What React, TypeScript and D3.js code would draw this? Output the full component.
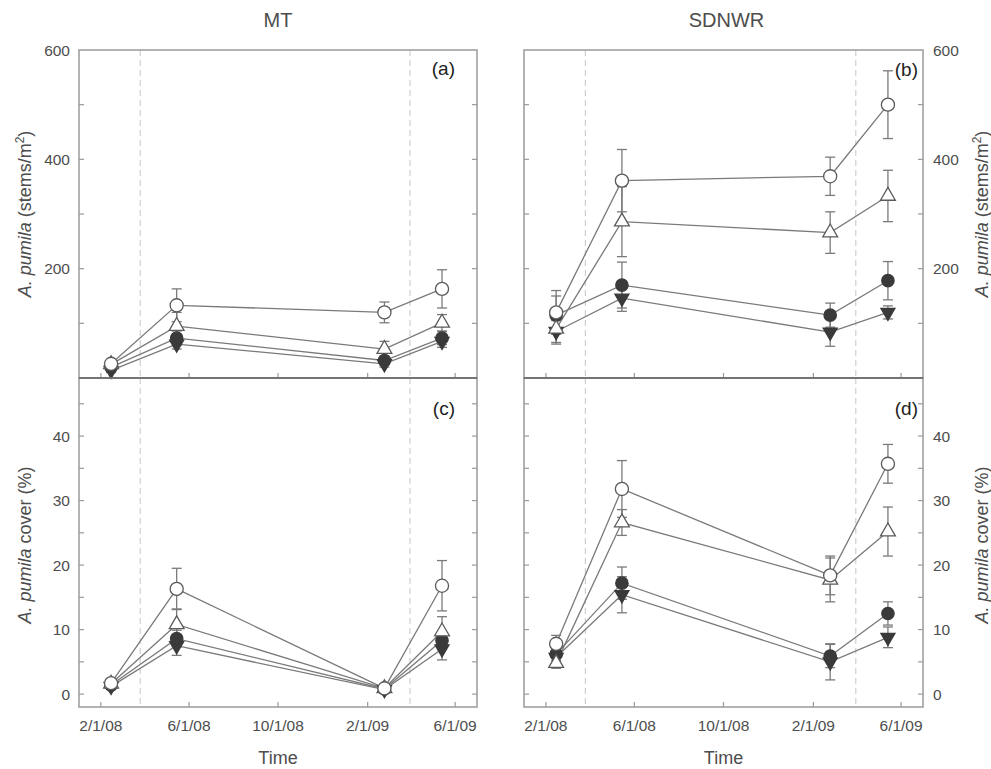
import React from "react";
import * as d3 from "d3";

// ---------- data ----------
const sampleDates = ["2008-02-15", "2008-05-15", "2009-02-24", "2009-05-14"];
const dashedDates = ["2008-03-26", "2009-03-31"];
const xDomainDates = ["2008-01-02", "2009-07-01"];
const xTickDates = ["2008-02-01", "2008-06-01", "2008-10-01", "2009-02-01", "2009-06-01"];
const xTickLabels = ["2/1/08", "6/1/08", "10/1/08", "2/1/09", "6/1/09"];

const stemTicksMajor = [200, 400, 600];
const stemTicksMinor = [100, 300, 500];
const coverTicksMajor = [0, 10, 20, 30, 40];
const coverTicksMinor = [5, 15, 25, 35, 45];

const columnTitles = ["MT", "SDNWR"];
const panelLabels = ["(a)", "(b)", "(c)", "(d)"];

// (a) MT stems
const aOpenCircle = [26, 133, 120, 163];
const aOpenCircleSE = [6, 30, 19, 35];
const aOpenTriangle = [25, 95, 53, 101];
const aOpenTriangleSE = [5, 25, 14, 15];
const aFilledCircle = [20, 73, 32, 73];
const aFilledCircleSE = [4, 13, 8, 12];
const aFilledTriangle = [14, 62, 26, 67];
const aFilledTriangleSE = [4, 9, 6, 11];

// (b) SDNWR stems
const bOpenCircle = [120, 361, 369, 500];
const bOpenCircleSE = [40, 57, 35, 62];
const bOpenTriangle = [90, 286, 266, 333];
const bOpenTriangleSE = [28, 64, 38, 47];
const bFilledCircle = [115, 170, 115, 178];
const bFilledCircleSE = [35, 42, 22, 35];
const bFilledTriangle = [85, 146, 84, 120];
const bFilledTriangleSE = [20, 24, 26, 12];

// (c) MT cover
const cOpenCircle = [1.7, 16.3, 0.9, 16.8];
const cOpenCircleSE = [0.3, 3.2, 0.2, 3.9];
const cOpenTriangle = [1.6, 10.8, 0.9, 9.7];
const cOpenTriangleSE = [0.3, 2.4, 0.2, 2.3];
const cFilledCircle = [1.4, 8.6, 0.8, 8.3];
const cFilledCircleSE = [0.2, 1.3, 0.2, 1.4];
const cFilledTriangle = [1.2, 7.5, 0.7, 7.0];
const cFilledTriangleSE = [0.2, 1.5, 0.2, 1.7];

// (d) SDNWR cover
const dOpenCircle = [7.8, 31.8, 18.4, 35.7];
const dOpenCircleSE = [1.3, 4.4, 3.0, 3.0];
const dOpenTriangle = [4.8, 26.6, 17.7, 25.2];
const dOpenTriangleSE = [0.8, 2.0, 3.4, 3.8];
const dFilledCircle = [6.2, 17.2, 5.9, 12.5];
const dFilledCircleSE = [1.0, 2.5, 1.8, 1.8];
const dFilledTriangle = [5.7, 15.4, 5.0, 8.8];
const dFilledTriangleSE = [0.9, 2.8, 2.8, 1.6];

// ---------- layout ----------
const W = 991;
const H = 769;
const colX = [
  [79, 477],
  [524, 923],
];
const rowY = [
  [50, 378],
  [378, 707],
];
const FONT = "'Liberation Sans', Arial, Helvetica, sans-serif";
const AXIS = "#9a9a9a";
const LINE = "#7a7a7a";
const DARK = "#3a3a3a";
const TEXT = "#4d4d4d";

const parse = d3.timeParse("%Y-%m-%d");

type Series = { vals: number[]; se: number[]; kind: string };

const panels: { col: number; row: number; series: Series[] }[] = [
  {
    col: 0,
    row: 0,
    series: [
      { vals: aFilledTriangle, se: aFilledTriangleSE, kind: "filledTriangle" },
      { vals: aFilledCircle, se: aFilledCircleSE, kind: "filledCircle" },
      { vals: aOpenTriangle, se: aOpenTriangleSE, kind: "openTriangle" },
      { vals: aOpenCircle, se: aOpenCircleSE, kind: "openCircle" },
    ],
  },
  {
    col: 1,
    row: 0,
    series: [
      { vals: bFilledTriangle, se: bFilledTriangleSE, kind: "filledTriangle" },
      { vals: bFilledCircle, se: bFilledCircleSE, kind: "filledCircle" },
      { vals: bOpenTriangle, se: bOpenTriangleSE, kind: "openTriangle" },
      { vals: bOpenCircle, se: bOpenCircleSE, kind: "openCircle" },
    ],
  },
  {
    col: 0,
    row: 1,
    series: [
      { vals: cFilledTriangle, se: cFilledTriangleSE, kind: "filledTriangle" },
      { vals: cFilledCircle, se: cFilledCircleSE, kind: "filledCircle" },
      { vals: cOpenTriangle, se: cOpenTriangleSE, kind: "openTriangle" },
      { vals: cOpenCircle, se: cOpenCircleSE, kind: "openCircle" },
    ],
  },
  {
    col: 1,
    row: 1,
    series: [
      { vals: dFilledTriangle, se: dFilledTriangleSE, kind: "filledTriangle" },
      { vals: dFilledCircle, se: dFilledCircleSE, kind: "filledCircle" },
      { vals: dOpenTriangle, se: dOpenTriangleSE, kind: "openTriangle" },
      { vals: dOpenCircle, se: dOpenCircleSE, kind: "openCircle" },
    ],
  },
];

const symbolPath = (kind: string) => {
  if (kind === "openCircle") return d3.symbol(d3.symbolCircle, 135)();
  if (kind === "filledCircle") return d3.symbol(d3.symbolCircle, 120)();
  return d3.symbol(d3.symbolTriangle, kind === "openTriangle" ? 95 : 85)();
};

function Panel({ col, row, series, label }: any) {
  const [x0, x1] = colX[col];
  const [y0, y1] = rowY[row];
  const x = d3
    .scaleTime()
    .domain(xDomainDates.map((d) => parse(d) as Date))
    .range([x0, x1]);
  const y =
    row === 0
      ? d3.scaleLinear().domain([0, 600]).range([y1, y0])
      : d3.scaleLinear().domain([-2, 49]).range([y1, y0]);
  const major = row === 0 ? stemTicksMajor : coverTicksMajor;
  const minor = row === 0 ? stemTicksMinor : coverTicksMinor;
  const dates = sampleDates.map((d) => parse(d) as Date);
  const line = d3
    .line<number>()
    .x((_, i) => x(dates[i]))
    .y((v) => y(v));
  const tl = 5;
  const labelPos =
    col === 0 ? { x: x1 - 22, y: row === 0 ? 75 : 415 } : { x: x1 - 5, y: row === 0 ? 76 : 415 };

  return (
    <g>
      {dashedDates.map((d) => (
        <line
          key={d}
          x1={x(parse(d) as Date)}
          x2={x(parse(d) as Date)}
          y1={y0}
          y2={y1}
          stroke="#cfcfcf"
          strokeWidth={1.2}
          strokeDasharray="6,4"
        />
      ))}
      <rect x={x0} y={y0} width={x1 - x0} height={y1 - y0} fill="none" stroke={AXIS} strokeWidth={1.5} />
      {[...major, ...minor]
        .filter((t) => y(t) > y0 + 1 && y(t) < y1 - 1)
        .map((t) => (
          <g key={"yt" + t}>
            <line x1={x0} x2={x0 + tl} y1={y(t)} y2={y(t)} stroke={AXIS} strokeWidth={1.2} />
            <line x1={x1} x2={x1 - tl} y1={y(t)} y2={y(t)} stroke={AXIS} strokeWidth={1.2} />
          </g>
        ))}
      {xTickDates.map((d) => (
        <line
          key={"xt" + d}
          x1={x(parse(d) as Date)}
          x2={x(parse(d) as Date)}
          y1={y1}
          y2={y1 - tl}
          stroke={AXIS}
          strokeWidth={1.2}
        />
      ))}
      {major.map((t) => (
        <text
          key={"yl" + t}
          x={col === 0 ? x0 - 9 : x1 + 10}
          y={y(t)}
          dy="0.36em"
          textAnchor={col === 0 ? "end" : "start"}
          fontSize={15.5}
          fill={TEXT}
          fontFamily={FONT}
        >
          {t}
        </text>
      ))}
      {row === 1 &&
        xTickDates.map((d, i) => (
          <text
            key={"xl" + d}
            x={x(parse(d) as Date)}
            y={731}
            textAnchor="middle"
            fontSize={15.5}
            fill={TEXT}
            fontFamily={FONT}
          >
            {xTickLabels[i]}
          </text>
        ))}
      {series.map((s: Series, si: number) => (
        <path key={"ln" + si} d={line(s.vals) as string} fill="none" stroke={LINE} strokeWidth={1.3} />
      ))}
      {series.map((s: Series, si: number) =>
        s.vals.map((v, i) => {
          const cx = x(dates[i]);
          const yt = y(v + s.se[i]);
          const yb = y(v - s.se[i]);
          return (
            <g key={"eb" + si + "-" + i} stroke={LINE} strokeWidth={1.3}>
              <line x1={cx} x2={cx} y1={yt} y2={yb} />
              <line x1={cx - 5} x2={cx + 5} y1={yt} y2={yt} />
              <line x1={cx - 5} x2={cx + 5} y1={yb} y2={yb} />
            </g>
          );
        })
      )}
      {series.map((s: Series, si: number) =>
        s.vals.map((v, i) => {
          const cx = x(dates[i]);
          const cy = y(v);
          const filled = s.kind.startsWith("filled");
          const rot = s.kind === "filledTriangle" ? 180 : 0;
          return (
            <path
              key={"mk" + si + "-" + i}
              d={symbolPath(s.kind) as string}
              transform={`translate(${cx},${cy}) rotate(${rot})`}
              fill={filled ? DARK : "#ffffff"}
              stroke={filled ? DARK : "#5a5a5a"}
              strokeWidth={1.3}
            />
          );
        })
      )}
      <text x={labelPos.x} y={labelPos.y} textAnchor="end" fontSize={19} fill="#222" fontFamily={FONT}>
        {label}
      </text>
    </g>
  );
}

function YTitle({ x, cy, cover }: { x: number; cy: number; cover: boolean }) {
  return (
    <text
      transform={`translate(${x},${cy}) rotate(-90)`}
      textAnchor="middle"
      dy="0.35em"
      fontSize={18}
      fill={TEXT}
      fontFamily={FONT}
    >
      <tspan fontStyle="italic">A. pumila</tspan>
      {cover ? (
        <tspan> cover (%)</tspan>
      ) : (
        <>
          <tspan> (stems/m</tspan>
          <tspan fontSize={12} dy={-7}>
            2
          </tspan>
          <tspan dy={7}>)</tspan>
        </>
      )}
    </text>
  );
}

export default function App() {
  return (
    <div style={{ position: "absolute", left: 0, top: 0 }}>
      <svg width={W} height={H} style={{ display: "block", background: "#fff" }}>
        <rect width={W} height={H} fill="#fff" />
        {columnTitles.map((t, i) => (
          <text
            key={t}
            x={(colX[i][0] + colX[i][1]) / 2 + (i === 1 ? 3 : 0)}
            y={27}
            textAnchor="middle"
            fontSize={20}
            fill={TEXT}
            fontFamily={FONT}
          >
            {t}
          </text>
        ))}
        {panels.map((p, i) => (
          <Panel key={i} col={p.col} row={p.row} series={p.series} label={panelLabels[i]} />
        ))}
        <line x1={colX[0][0]} x2={colX[0][1]} y1={378} y2={378} stroke="#666" strokeWidth={1.6} />
        <line x1={colX[1][0]} x2={colX[1][1]} y1={378} y2={378} stroke="#666" strokeWidth={1.6} />
        <YTitle x={25} cy={214} cover={false} />
        <YTitle x={25} cy={545} cover={true} />
        <YTitle x={982} cy={214} cover={false} />
        <YTitle x={982} cy={545} cover={true} />
        {colX.map(([a, b], i) => (
          <text
            key={"time" + i}
            x={(a + b) / 2}
            y={764}
            textAnchor="middle"
            fontSize={18}
            fill={TEXT}
            fontFamily={FONT}
          >
            Time
          </text>
        ))}
      </svg>
    </div>
  );
}
